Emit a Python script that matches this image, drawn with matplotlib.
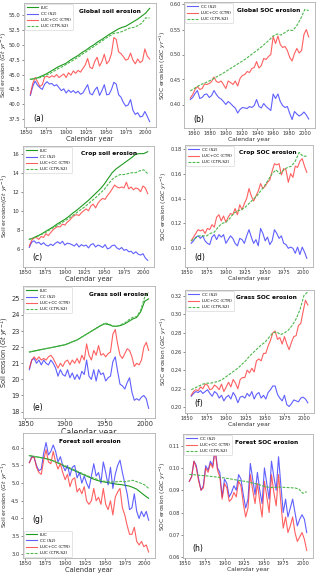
"""Soil and SOC erosion panels (global, crop, grass, forest). Saves out.png."""

import numpy as np
import matplotlib
matplotlib.use("Agg")
import matplotlib.pyplot as plt
import matplotlib.ticker as mticker

# --- colours ---
LUC_COLOUR = "#1f9a1f"
CC_COLOUR = "#2b2bff"
CTR_COLOUR = "#ff2b2b"
DIFF_COLOUR = "#4cb84c"
SPINE = "#b0b0b0"

# annual series sampled every 3 years, smooth LUC series every 5 years
YEARS3 = np.arange(1855, 2006, 3)
YEARS5 = np.arange(1855, 2006, 5)

# ── (a) global soil erosion, Gt/yr ──
a_luc = [44.2, 44.3, 44.5, 44.8, 45.1, 45.5, 45.9, 46.3, 46.6, 46.9,
         47.4, 47.8, 48.2, 48.7, 49.1, 49.6, 50.0, 50.5, 50.9, 51.35,
         51.8, 52.2, 52.6, 52.9, 53.1, 53.5, 53.9, 54.3, 54.8, 55.3,
         56.1]
a_cc = [41.5, 43.0, 43.9, 43.2, 42.8, 42.5, 43.4, 43.8, 43.4, 43.5,
        43.1, 43.3, 42.8, 42.3, 42.6, 41.9, 42.4, 42.0, 42.3, 41.9,
        42.2, 41.7, 41.9, 42.6, 43.3, 41.8, 41.6, 42.4, 42.9, 41.5,
        42.3, 43.3, 41.6, 41.7, 42.5, 43.7, 43.4, 41.6, 41.2, 40.3,
        39.7, 39.9, 40.8, 39.0, 38.3, 38.6, 37.9, 38.0, 38.8, 38.0,
        37.1]
a_ctr = [41.7, 43.5, 44.5, 43.8, 43.0, 43.3, 44.6, 44.7, 44.5, 44.8,
         44.6, 45.0, 44.5, 44.8, 45.1, 44.5, 45.3, 44.9, 45.6, 45.2,
         45.7, 45.4, 46.0, 46.6, 47.7, 46.2, 46.0, 47.2, 47.9, 46.4,
         47.2, 48.4, 46.8, 47.3, 48.5, 51.2, 50.9, 48.8, 48.5, 48.0,
         47.4, 47.6, 48.6, 47.4, 46.8, 47.6, 47.0, 47.3, 49.3, 48.1,
         47.6]
a_diff = [44.2, 44.3, 44.4, 44.6, 44.9, 45.2, 45.6, 46.0, 46.3, 46.7,
          47.1, 47.5, 47.9, 48.4, 48.8, 49.3, 49.7, 50.2, 50.6, 51.1,
          51.5, 51.9, 52.0, 52.2, 52.5, 52.8, 52.9, 53.2, 53.6, 54.5,
          54.5]

# ── (b) global SOC erosion, GtC/yr ──
b_cc = [0.410, 0.414, 0.422, 0.428, 0.412, 0.414, 0.420, 0.421, 0.414, 0.418,
        0.428, 0.420, 0.414, 0.411, 0.406, 0.400, 0.406, 0.402, 0.397, 0.393,
        0.383, 0.390, 0.394, 0.393, 0.392, 0.396, 0.394, 0.398, 0.410, 0.396,
        0.393, 0.402, 0.396, 0.392, 0.388, 0.421, 0.412, 0.421, 0.406, 0.398,
        0.394, 0.396, 0.382, 0.370, 0.386, 0.381, 0.377, 0.380, 0.385, 0.379,
        0.371]
b_ctr = [0.413, 0.420, 0.430, 0.436, 0.430, 0.432, 0.441, 0.440, 0.442, 0.446,
         0.455, 0.446, 0.444, 0.447, 0.440, 0.432, 0.447, 0.444, 0.440, 0.447,
         0.437, 0.452, 0.458, 0.460, 0.466, 0.464, 0.472, 0.474, 0.486, 0.473,
         0.478, 0.492, 0.490, 0.496, 0.500, 0.536, 0.522, 0.537, 0.520, 0.514,
         0.516, 0.508, 0.494, 0.487, 0.502, 0.512, 0.503, 0.508, 0.540, 0.550,
         0.535]
b_diff = [0.427, 0.432, 0.437, 0.441, 0.444, 0.448, 0.452, 0.457, 0.461, 0.466,
          0.471, 0.476, 0.481, 0.486, 0.491, 0.497, 0.503, 0.509, 0.515, 0.522,
          0.529, 0.537, 0.541, 0.539, 0.544, 0.549, 0.548, 0.558, 0.572, 0.590,
          0.588]

# ── (c) crop soil erosion ──
c_luc = [7.0, 7.15, 7.35, 7.55, 7.8, 8.05, 8.3, 8.6, 8.85, 9.1,
         9.4, 9.75, 10.05, 10.4, 10.75, 11.1, 11.5, 11.9, 12.3, 12.8,
         13.4, 14.0, 14.4, 14.7, 15.0, 15.3, 15.6, 15.95, 16.0, 16.0,
         16.2]
c_cc = [6.15, 6.7, 6.85, 6.6, 6.7, 6.45, 6.65, 6.4, 6.3, 6.5,
        6.35, 6.6, 6.75, 6.55, 6.8, 6.4, 6.6, 6.55, 6.45, 6.3,
        6.55, 6.2, 6.45, 6.3, 6.4, 6.1, 6.45, 6.55, 6.2, 6.4,
        6.3, 6.15, 6.45, 6.0, 6.1, 6.35, 6.4, 6.1, 5.95, 6.15,
        5.85, 5.95, 5.7, 5.75, 5.5, 5.7, 5.45, 5.35, 5.5, 5.05,
        4.8]
c_ctr = [6.3, 6.9, 7.15, 7.2, 7.0, 7.3, 7.2, 7.6, 7.4, 7.7,
         8.0, 8.2, 8.35, 8.3, 8.6, 8.5, 8.8, 9.0, 9.3, 9.5,
         9.6, 9.5, 9.8, 10.0, 10.2, 10.0, 10.5, 10.7, 10.3, 10.8,
         11.1, 11.3, 11.2, 11.6, 11.9, 12.3, 12.7, 12.5, 12.4, 12.5,
         12.4, 13.0, 12.3, 12.5, 12.2, 12.4, 12.3, 12.0, 12.6, 12.4,
         11.8]
c_diff = [7.0, 7.15, 7.3, 7.5, 7.7, 7.95, 8.2, 8.45, 8.7, 8.95,
          9.2, 9.5, 9.8, 10.1, 10.4, 10.75, 11.1, 11.45, 11.85, 12.25,
          12.8, 13.3, 13.6, 13.8, 13.8, 13.9, 14.0, 14.0, 14.2, 14.3,
          13.9]

# ── (d) crop SOC erosion ──
d_cc = [0.104, 0.106, 0.109, 0.110, 0.108, 0.110, 0.106, 0.104, 0.103, 0.109,
        0.111, 0.107, 0.111, 0.109, 0.111, 0.104, 0.107, 0.110, 0.108, 0.104,
        0.102, 0.108, 0.107, 0.104, 0.110, 0.115, 0.109, 0.104, 0.107, 0.102,
        0.116, 0.112, 0.106, 0.109, 0.103, 0.106, 0.115, 0.112, 0.108, 0.110,
        0.104, 0.103, 0.100, 0.101, 0.100, 0.096, 0.101, 0.095, 0.101, 0.097,
        0.092]
d_ctr = [0.106, 0.109, 0.112, 0.115, 0.114, 0.115, 0.112, 0.116, 0.115, 0.119,
         0.117, 0.125, 0.127, 0.122, 0.126, 0.121, 0.125, 0.128, 0.127, 0.132,
         0.127, 0.135, 0.131, 0.136, 0.140, 0.148, 0.142, 0.138, 0.142, 0.146,
         0.152, 0.148, 0.150, 0.153, 0.155, 0.162, 0.168, 0.167, 0.168, 0.159,
         0.164, 0.163, 0.153, 0.160, 0.157, 0.166, 0.165, 0.170, 0.172, 0.166,
         0.161]
d_diff = [0.106, 0.108, 0.110, 0.110, 0.110, 0.112, 0.113, 0.117, 0.120, 0.121,
          0.124, 0.128, 0.130, 0.131, 0.133, 0.136, 0.139, 0.142, 0.146, 0.150,
          0.155, 0.160, 0.163, 0.160, 0.163, 0.165, 0.166, 0.170, 0.177, 0.174,
          0.174]

# ── (e) grass soil erosion ──
e_luc = [21.7, 21.75, 21.8, 21.85, 21.9, 21.95, 22.0, 22.05, 22.1, 22.15,
         22.25, 22.35, 22.45, 22.6, 22.75, 22.9, 23.05, 23.2, 23.35, 23.45,
         23.4, 23.3, 23.3, 23.35, 23.45, 23.6, 23.75, 23.85, 24.2, 24.85,
         25.0]
e_cc = [20.6, 21.2, 21.3, 21.0, 21.2, 20.9, 21.2, 21.0, 20.9, 21.2,
        21.0, 20.7, 20.2, 20.6, 20.3, 20.2, 20.6, 20.1, 20.4, 20.0,
        20.3, 20.0, 20.5, 20.3, 21.2, 20.2, 20.0, 20.6, 19.9, 20.6,
        20.3, 20.4, 19.9, 20.1, 20.2, 21.1, 21.4, 20.5, 19.7, 19.6,
        19.4, 19.8, 20.1, 19.2, 18.7, 18.8, 18.7, 18.9, 19.0, 18.8,
        18.2]
e_ctr = [20.7, 21.2, 21.4, 21.2, 21.4, 21.2, 21.3, 21.2, 21.4, 21.5,
         21.3, 21.0, 20.7, 21.0, 20.8, 21.1, 21.2, 20.9, 21.2, 21.0,
         21.3, 21.0, 21.5, 21.2, 22.2, 21.5, 21.2, 21.8, 21.5, 22.1,
         21.5, 21.6, 21.4, 21.6, 21.7, 22.8, 23.1, 22.2, 21.5, 21.3,
         21.6, 21.9, 21.8, 21.4, 20.8, 21.0, 20.9, 21.2, 22.0, 22.3,
         21.8]
e_diff = [21.7, 21.75, 21.8, 21.85, 21.9, 21.95, 22.0, 22.05, 22.1, 22.15,
          22.25, 22.35, 22.45, 22.6, 22.75, 22.9, 23.05, 23.2, 23.35, 23.5,
          23.45, 23.3, 23.3, 23.4, 23.5, 23.7, 23.85, 23.9, 24.3, 25.1,
          25.4]

# ── (f) grass SOC erosion ──
f_cc = [0.212, 0.215, 0.217, 0.216, 0.218, 0.215, 0.217, 0.219, 0.215, 0.212,
        0.217, 0.215, 0.210, 0.213, 0.207, 0.211, 0.213, 0.209, 0.216, 0.212,
        0.205, 0.211, 0.212, 0.210, 0.215, 0.212, 0.217, 0.209, 0.214, 0.216,
        0.210, 0.213, 0.209, 0.216, 0.219, 0.223, 0.223, 0.214, 0.210, 0.207,
        0.213, 0.203, 0.201, 0.204, 0.208, 0.207, 0.206, 0.210, 0.211, 0.209,
        0.205]
f_ctr = [0.213, 0.217, 0.219, 0.218, 0.222, 0.220, 0.225, 0.224, 0.219, 0.220,
         0.224, 0.222, 0.219, 0.225, 0.217, 0.222, 0.227, 0.222, 0.230, 0.226,
         0.220, 0.230, 0.232, 0.232, 0.240, 0.237, 0.242, 0.238, 0.250, 0.252,
         0.250, 0.258, 0.258, 0.266, 0.272, 0.280, 0.282, 0.273, 0.275, 0.268,
         0.276, 0.268, 0.262, 0.270, 0.276, 0.277, 0.288, 0.290, 0.303, 0.315,
         0.310]
f_diff = [0.219, 0.221, 0.223, 0.225, 0.226, 0.226, 0.227, 0.228, 0.230, 0.233,
          0.236, 0.239, 0.242, 0.246, 0.250, 0.255, 0.259, 0.263, 0.267, 0.270,
          0.275, 0.280, 0.281, 0.278, 0.280, 0.283, 0.288, 0.295, 0.305, 0.320,
          0.324]

# ── (g) forest soil erosion ──
g_luc = [5.78, 5.76, 5.74, 5.72, 5.70, 5.67, 5.63, 5.58, 5.53, 5.47,
         5.42, 5.37, 5.32, 5.27, 5.22, 5.17, 5.12, 5.08, 5.05, 5.03,
         5.01, 4.99, 4.97, 4.96, 4.94, 4.92, 4.88, 4.83, 4.74, 4.65,
         4.57]
g_cc = [5.58, 5.75, 5.72, 5.5, 5.35, 5.4, 5.85, 6.15, 5.8, 5.9,
        6.08, 5.9, 5.6, 5.75, 5.5, 5.35, 5.5, 5.2, 5.45, 5.5,
        5.15, 5.3, 5.0, 5.2, 5.0, 4.85, 5.2, 5.55, 5.2, 5.3,
        5.0, 5.6, 5.3, 4.95, 5.45, 4.85, 5.25, 5.5, 5.65, 5.3,
        5.0, 4.7, 4.25, 4.3, 4.7, 4.2, 4.0, 4.2, 4.05, 4.2,
        3.95]
g_ctr = [5.58, 5.72, 5.75, 5.45, 5.3, 5.25, 5.65, 5.95, 5.6, 5.55,
         5.9, 5.6, 5.4, 5.55, 5.3, 5.1, 5.25, 4.9, 5.1, 5.15,
         4.75, 4.85, 4.7, 4.9, 4.5, 4.4, 4.5, 4.85, 4.5, 4.6,
         4.4, 4.85, 4.4, 4.25, 4.5, 4.1, 4.6, 4.75, 4.85, 4.3,
         4.1, 3.8, 3.55, 3.55, 3.75, 3.35, 3.25, 3.35, 3.2, 3.25,
         3.05]
g_diff = [5.78, 5.76, 5.74, 5.72, 5.70, 5.67, 5.63, 5.59, 5.54, 5.49,
          5.44, 5.39, 5.34, 5.29, 5.24, 5.19, 5.15, 5.11, 5.07, 5.05,
          5.04, 5.03, 5.04, 5.05, 5.04, 5.06, 5.08, 5.04, 5.00, 4.95,
          4.85]

# ── (h) forest SOC erosion ──
h_cc = [0.094, 0.096, 0.103, 0.101, 0.095, 0.090, 0.092, 0.101, 0.099, 0.103,
        0.101, 0.109, 0.100, 0.098, 0.087, 0.095, 0.093, 0.087, 0.089, 0.092,
        0.090, 0.097, 0.095, 0.088, 0.082, 0.086, 0.102, 0.095, 0.088, 0.098,
        0.090, 0.084, 0.100, 0.093, 0.086, 0.103, 0.096, 0.090, 0.105, 0.092,
        0.080, 0.086, 0.078, 0.082, 0.086, 0.080, 0.074, 0.077, 0.079, 0.077,
        0.071]
h_ctr = [0.094, 0.096, 0.103, 0.100, 0.094, 0.090, 0.091, 0.100, 0.098, 0.102,
         0.100, 0.108, 0.099, 0.096, 0.086, 0.093, 0.091, 0.085, 0.086, 0.089,
         0.087, 0.094, 0.092, 0.084, 0.078, 0.082, 0.097, 0.090, 0.084, 0.093,
         0.085, 0.078, 0.094, 0.087, 0.080, 0.097, 0.089, 0.083, 0.097, 0.084,
         0.073, 0.078, 0.071, 0.074, 0.078, 0.071, 0.067, 0.069, 0.071, 0.068,
         0.063]
h_diff = [0.0970, 0.0970, 0.0968, 0.0966, 0.0965, 0.0963, 0.0961, 0.0959, 0.0957, 0.0955,
          0.0952, 0.0949, 0.0946, 0.0943, 0.0940, 0.0937, 0.0933, 0.0929, 0.0924, 0.0918,
          0.0914, 0.0912, 0.0913, 0.0914, 0.0913, 0.0912, 0.0911, 0.0910, 0.0905, 0.0886,
          0.0893]

SOIL_LABEL = r"Soil erosion ($Gt\ yr^{-1}$)"
SOC_LABEL = r"SOC erosion ($GtC\ yr^{-1}$)"

# text sizes (tick, x label, y label) for the three sub-figure styles
LEFT_FONTS = (3.8, 4.9, 4.4)
GRASS_FONTS = (4.8, 5.6, 4.8)
RIGHT_FONTS = (3.6, 4.3, 4.2)

# pixel boxes (left, top, right, bottom) on the 320x576 canvas;
# ylabel_px = x of the y label's right edge
PANELS = [
    dict(letter="(a)", title="Global soil erosion", box=(24, 3, 156, 127),
         luc=a_luc, cc=a_cc, ctr=a_ctr, diff=a_diff, ylim=(36.2, 57.0),
         ystep=2.5, yfmt="%.1f", xstep=25, ylabel=SOIL_LABEL, tx=0.65,
         letter_y=0.07, legend_loc="upper left", fonts=LEFT_FONTS, ylabel_px=9.4),
    dict(letter="(b)", title="Global SOC erosion", box=(184, 2, 315, 128),
         luc=None, cc=b_cc, ctr=b_ctr, diff=b_diff, ylim=(0.353, 0.605),
         ystep=0.05, yfmt="%.2f", xstep=20, ylabel=SOC_LABEL, tx=0.645,
         letter_y=0.07, legend_loc="upper left", fonts=RIGHT_FONTS, ylabel_px=168.5),
    dict(letter="(c)", title="Crop soil erosion", box=(23, 146, 154, 267),
         luc=c_luc, cc=c_cc, ctr=c_ctr, diff=c_diff, ylim=(4.1, 16.8),
         ystep=2, yfmt="%d", xstep=25, ylabel=r"Soil erosion($Gt\ yr^{-1}$)",
         tx=0.655, letter_y=0.08, legend_loc="upper left", fonts=LEFT_FONTS,
         ylabel_px=10),
    dict(letter="(d)", title="Crop SOC erosion", box=(185, 145, 313, 267),
         luc=None, cc=d_cc, ctr=d_ctr, diff=d_diff, ylim=(0.085, 0.183),
         ystep=0.02, yfmt="%.2f", xstep=25, ylabel=SOC_LABEL, tx=0.65,
         letter_y=0.08, legend_loc="upper left", fonts=RIGHT_FONTS, ylabel_px=169),
    dict(letter="(e)", title="Grass soil erosion", box=(23, 286, 155, 418),
         luc=e_luc, cc=e_cc, ctr=e_ctr, diff=e_diff, ylim=(17.6, 25.8),
         ystep=1, yfmt="%d", xstep=50, ylabel=SOIL_LABEL, tx=0.725,
         letter_y=0.08, legend_loc="upper left", fonts=GRASS_FONTS, ylabel_px=11),
    dict(letter="(f)", title="Grass SOC erosion", box=(185, 290, 314, 413),
         luc=None, cc=f_cc, ctr=f_ctr, diff=f_diff, ylim=(0.194, 0.326),
         ystep=0.02, yfmt="%.2f", xstep=25, ylabel=SOC_LABEL, tx=0.635,
         letter_y=0.08, legend_loc="upper left", fonts=RIGHT_FONTS, ylabel_px=169),
    dict(letter="(g)", title="Forest soil erosion", box=(23, 433, 155, 558),
         luc=g_luc, cc=g_cc, ctr=g_ctr, diff=g_diff, ylim=(2.88, 6.42),
         ystep=0.5, yfmt="%.1f", xstep=25, ylabel=SOIL_LABEL, tx=0.51,
         letter_y=0.31, legend_loc="lower left", fonts=LEFT_FONTS, ylabel_px=10),
    dict(letter="(h)", title="Forest SOC erosion", box=(183, 434, 313, 558),
         luc=None, cc=h_cc, ctr=h_ctr, diff=h_diff, ylim=(0.0596, 0.1152),
         ystep=0.01, yfmt="%.2f", xstep=25, ylabel=SOC_LABEL, tx=0.645,
         letter_y=0.08, legend_loc="upper left", fonts=RIGHT_FONTS, ylabel_px=168),
]

W, H = 320, 576


def draw_panel(fig, panel):
    """Draw one erosion panel into its pixel box."""
    left, top, right, bottom = panel["box"]
    ax = fig.add_axes([left / W, 1 - bottom / H, (right - left) / W, (bottom - top) / H])
    tick_size, xlabel_size, ylabel_size = panel["fonts"]

    if panel["luc"] is not None:
        ax.plot(YEARS5, panel["luc"], color=LUC_COLOUR, lw=0.8, label="LUC")
    ax.plot(YEARS3, panel["cc"], color=CC_COLOUR, lw=0.8, alpha=0.75, label="CC (S2)")
    ax.plot(YEARS3, panel["ctr"], color=CTR_COLOUR, lw=0.8, alpha=0.75, label="LUC+CC (CTR)")
    ax.plot(YEARS5, panel["diff"], color=DIFF_COLOUR, lw=0.8, ls="--", dashes=(2.5, 1.2),
            label="LUC (CTR-S2)")

    ax.set_xlim(1847, 2013)
    ax.set_ylim(*panel["ylim"])
    ax.xaxis.set_major_locator(mticker.MultipleLocator(panel["xstep"]))
    ax.yaxis.set_major_locator(mticker.MultipleLocator(panel["ystep"]))
    ax.yaxis.set_major_formatter(mticker.FormatStrFormatter(panel["yfmt"]))
    ax.tick_params(labelsize=tick_size, length=1.5, width=0.4, pad=1, colors="#333333")
    for spine in ax.spines.values():
        spine.set_color(SPINE)
        spine.set_linewidth(0.6)

    ax.set_xlabel("Calendar year", fontsize=xlabel_size, labelpad=0.5, color="#333333")
    ax.set_ylabel(panel["ylabel"], fontsize=ylabel_size, color="#333333")
    ax.yaxis.set_label_coords((panel["ylabel_px"] - left) / (right - left), 0.5)

    ax.text(panel["tx"], 0.935, panel["title"], transform=ax.transAxes, ha="center",
            va="center", fontsize=4.2, fontweight="bold")
    ax.text(0.07, panel["letter_y"], panel["letter"], transform=ax.transAxes,
            fontsize=5.5, va="center", ha="left")

    legend = ax.legend(loc=panel["legend_loc"], fontsize=3.0, handlelength=2.6,
                       borderpad=0.4, labelspacing=0.5, handletextpad=0.8,
                       borderaxespad=0.3, framealpha=1, fancybox=True)
    legend.get_frame().set_edgecolor("#d0d0d0")
    legend.get_frame().set_linewidth(0.4)


def main():
    fig = plt.figure(figsize=(W / 100, H / 100), dpi=100)
    fig.patch.set_facecolor("white")
    for panel in PANELS:
        draw_panel(fig, panel)
    fig.savefig("out.png", dpi=100, facecolor="white")
    plt.close(fig)


if __name__ == "__main__":
    main()
